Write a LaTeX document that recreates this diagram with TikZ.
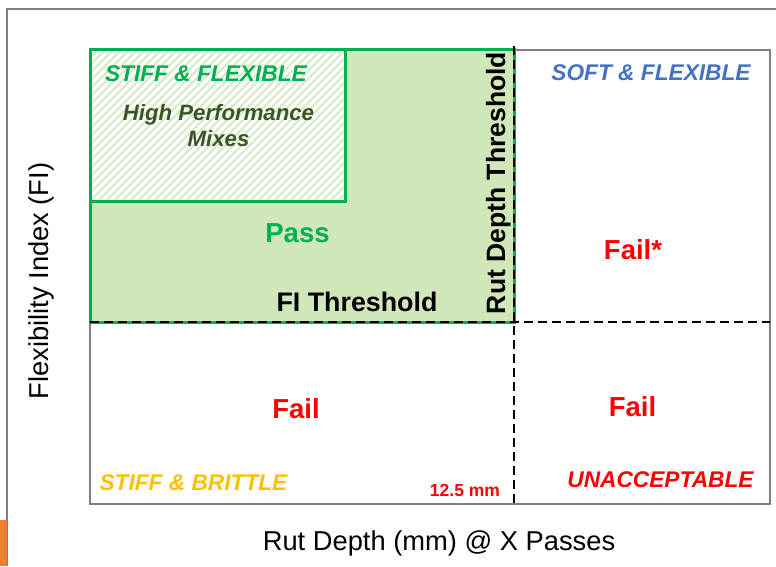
\documentclass[tikz,border=0pt]{standalone}
\usepackage{fontspec}
\setmainfont{Liberation Sans}
\definecolor{pgreen}{HTML}{00B050}
\definecolor{dgreen}{HTML}{385723}
\definecolor{pblue}{HTML}{4472C4}
\definecolor{pyellow}{HTML}{FFC000}
\definecolor{pred}{HTML}{FF0000}
\definecolor{pfill}{RGB}{208,232,185}
\definecolor{phatch}{RGB}{214,234,198}
\definecolor{pgray}{HTML}{7F7F7F}
\definecolor{porange}{HTML}{ED7D31}
\tikzset{
  txt/.style={inner sep=0pt, outer sep=0pt},
  zonelbl/.style={txt, font=\bfseries\itshape\fontsize{22.7}{27}\selectfont},
  biglbl/.style={txt, font=\bfseries\fontsize{27.5}{32}\selectfont},
  axislbl/.style={txt, font=\fontsize{27.3}{32}\selectfont},
  thresh/.style={black, line width=2.3pt, dash pattern=on 9pt off 5pt},
  hatchline/.style={phatch, line width=2pt},
}
\begin{document}
\begin{tikzpicture}[x=1pt,y=-1pt]
\useasboundingbox (0,0) rectangle (776,566);
% outer frame
\draw[pgray, line width=1.2pt] (7,566) -- (7,9) -- (776,9);
\fill[porange] (0,520) rectangle (6.5,566);
% plot frame
\draw[pgray, line width=1.5pt, fill=white] (90,50) rectangle (770,504);
% pass region
\fill[pfill] (90,49) rectangle (514,322);
\draw[pgreen, line width=3pt] (90,322) -- (90,49) -- (514,49) -- (514,322) -- cycle;
% high performance box
\fill[white] (90,49) rectangle (345,201);
\begin{scope}
  \clip (90,49) rectangle (345,201);
  \foreach \i in {0,...,55} \draw[hatchline] (-70+\i*8,201) -- ++(160,-160);
\end{scope}
\draw[pgreen, line width=3pt] (90,49) rectangle (345,201);
% thresholds
\coordinate (vt) at (514,46);
\coordinate (vb) at (514,504);
\coordinate (hl) at (90,322);
\coordinate (hr) at (770,322);
\draw[thresh] (vt) -- (vb);
\draw[thresh] (hl) -- (hr);
% labels
\node[zonelbl, pgreen, anchor=base west] (sf) at (105,81) {STIFF \& FLEXIBLE};
\node[txt, dgreen, font=\bfseries\itshape\fontsize{22.2}{26}\selectfont, align=center] (hp) at (218.5,126) {High Performance\\Mixes};
\node[biglbl, pgreen, anchor=base] (pass) at (297.5,242) {Pass};
\node[txt, font=\bfseries\fontsize{26.8}{30}\selectfont, anchor=base] (fit) at (357,311.5) {FI Threshold};
\node[txt, font=\bfseries\fontsize{26.5}{30}\selectfont, anchor=base, rotate=90] (rdt) at (505,183) {Rut Depth Threshold};
\node[zonelbl, pblue, anchor=base] (soft) at (651,80) {SOFT \& FLEXIBLE};
\node[biglbl, pred, anchor=base] (fs) at (633,259) {Fail*};
\node[biglbl, pred, anchor=base] (fl) at (296,418) {Fail};
\node[biglbl, pred, anchor=base] (fr) at (632.5,416) {Fail};
\node[zonelbl, pyellow, anchor=base west] (sb) at (99.5,490.5) {STIFF \& BRITTLE};
\node[zonelbl, pred, anchor=base] (un) at (660.5,487.5) {UNACCEPTABLE};
\node[txt, pred, font=\bfseries\fontsize{17.5}{20}\selectfont, anchor=base] (mm) at (465,496.5) {12.5 mm};
\node[axislbl, anchor=base] (xl) at (439,550.5) {Rut Depth (mm) @ X Passes};
\node[axislbl, anchor=base, rotate=90] (yl) at (48,281) {Flexibility Index (FI)};
\end{tikzpicture}
\end{document}
